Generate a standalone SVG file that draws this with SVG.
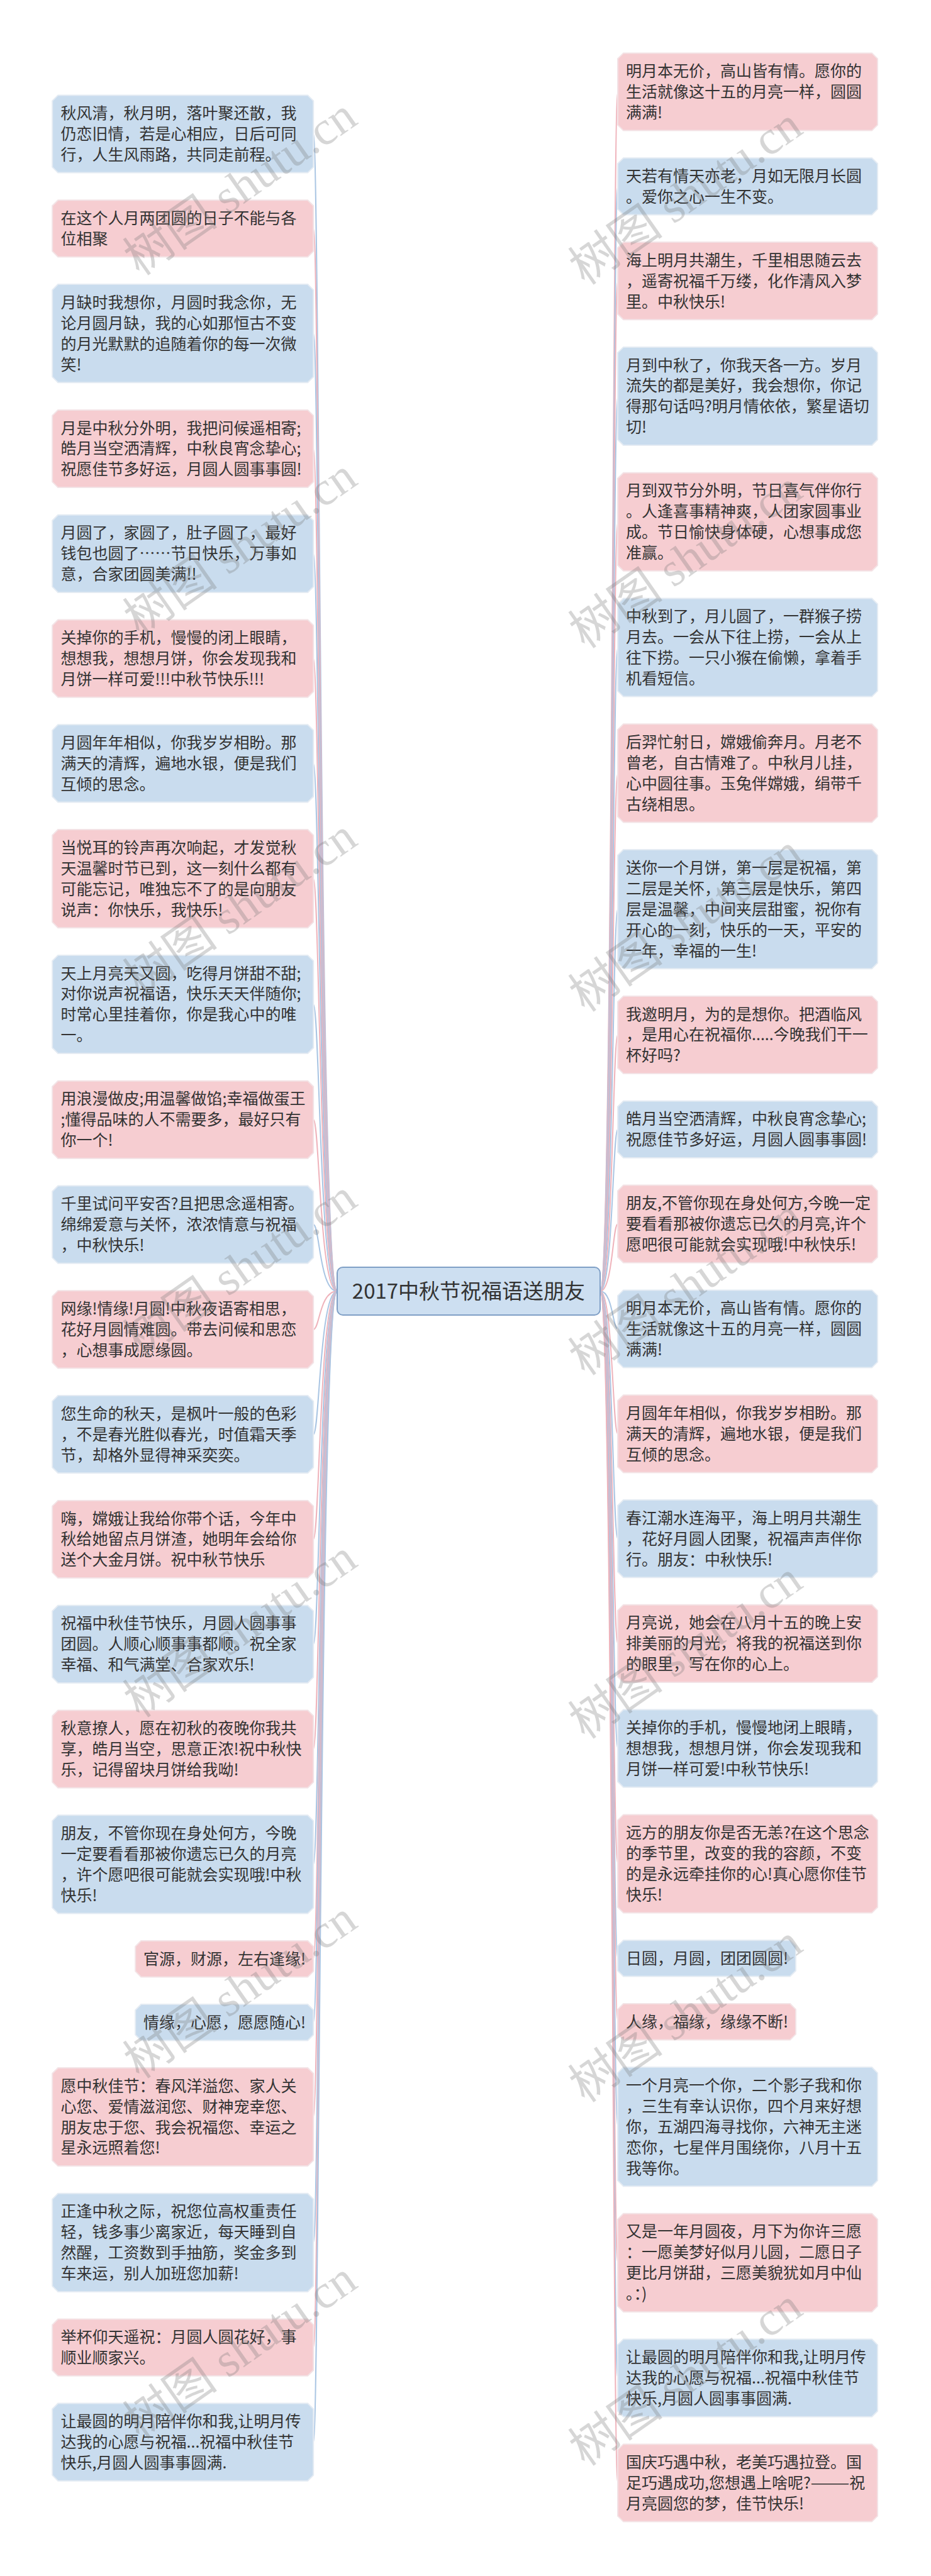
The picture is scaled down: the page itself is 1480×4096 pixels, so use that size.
<svg xmlns="http://www.w3.org/2000/svg" width="1480" height="4096" viewBox="0 0 1480 4096">
<style>
.b{fill:#c9dcee;stroke:#e4ebf3;stroke-width:2}
.p{fill:#f6cdd1;stroke:#f3e3e6;stroke-width:2}
.t{font-family:"Noto Sans CJK SC","Noto Sans",sans-serif;font-size:25px;fill:#333}
.cb{fill:none;stroke:#a9c5e3;stroke-width:2}
.cp{fill:none;stroke:#efb3bb;stroke-width:2}
.wm{font-family:"Liberation Serif","Noto Sans CJK SC",serif;font-size:76px;fill:#7a7a7a;opacity:.3}
</style>
<rect width="1480" height="4096" fill="#fff"/>
<g id="connectors">
<path class="cb" d="M536,2053C508,2053 508,213 498.2,213"/>
<path class="cp" d="M536,2053C508,2053 508,363.3 498.2,363.3"/>
<path class="cb" d="M536,2053C508,2053 508,530.2 498.2,530.2"/>
<path class="cp" d="M536,2053C508,2053 508,713.5 498.2,713.5"/>
<path class="cb" d="M536,2053C508,2053 508,880.3 498.2,880.3"/>
<path class="cp" d="M536,2053C508,2053 508,1047.1 498.2,1047.1"/>
<path class="cb" d="M536,2053C508,2053 508,1213.9 498.2,1213.9"/>
<path class="cp" d="M536,2053C508,2053 508,1397.2 498.2,1397.2"/>
<path class="cb" d="M536,2053C508,2053 508,1597 498.2,1597"/>
<path class="cp" d="M536,2053C508,2053 508,1780.3 498.2,1780.3"/>
<path class="cb" d="M536,2053C508,2053 508,1947.1 498.2,1947.1"/>
<path class="cp" d="M536,2053C508,2053 508,2113.9 498.2,2113.9"/>
<path class="cb" d="M536,2053C508,2053 508,2280.7 498.2,2280.7"/>
<path class="cp" d="M536,2053C508,2053 508,2447.5 498.2,2447.5"/>
<path class="cb" d="M536,2053C508,2053 508,2614.3 498.2,2614.3"/>
<path class="cp" d="M536,2053C508,2053 508,2781.1 498.2,2781.1"/>
<path class="cb" d="M536,2053C508,2053 508,2964.4 498.2,2964.4"/>
<path class="cp" d="M536,2053C508,2053 508,3114.7 498.2,3114.7"/>
<path class="cb" d="M536,2053C508,2053 508,3215.7 498.2,3215.7"/>
<path class="cp" d="M536,2053C508,2053 508,3366.1 498.2,3366.1"/>
<path class="cb" d="M536,2053C508,2053 508,3565.9 498.2,3565.9"/>
<path class="cp" d="M536,2053C508,2053 508,3732.7 498.2,3732.7"/>
<path class="cb" d="M536,2053C508,2053 508,3883.1 498.2,3883.1"/>
<path class="cp" d="M954,2053C974,2053 974,146 982,146"/>
<path class="cb" d="M954,2053C974,2053 974,296.3 982,296.3"/>
<path class="cp" d="M954,2053C974,2053 974,446.7 982,446.7"/>
<path class="cb" d="M954,2053C974,2053 974,630 982,630"/>
<path class="cp" d="M954,2053C974,2053 974,829.8 982,829.8"/>
<path class="cb" d="M954,2053C974,2053 974,1029.6 982,1029.6"/>
<path class="cp" d="M954,2053C974,2053 974,1229.4 982,1229.4"/>
<path class="cb" d="M954,2053C974,2053 974,1445.6 982,1445.6"/>
<path class="cp" d="M954,2053C974,2053 974,1645.4 982,1645.4"/>
<path class="cb" d="M954,2053C974,2053 974,1795.8 982,1795.8"/>
<path class="cp" d="M954,2053C974,2053 974,1946.2 982,1946.2"/>
<path class="cb" d="M954,2053C974,2053 974,2112.9 982,2112.9"/>
<path class="cp" d="M954,2053C974,2053 974,2279.7 982,2279.7"/>
<path class="cb" d="M954,2053C974,2053 974,2446.5 982,2446.5"/>
<path class="cp" d="M954,2053C974,2053 974,2613.3 982,2613.3"/>
<path class="cb" d="M954,2053C974,2053 974,2780.1 982,2780.1"/>
<path class="cp" d="M954,2053C974,2053 974,2963.4 982,2963.4"/>
<path class="cb" d="M954,2053C974,2053 974,3113.8 982,3113.8"/>
<path class="cp" d="M954,2053C974,2053 974,3214.7 982,3214.7"/>
<path class="cb" d="M954,2053C974,2053 974,3381.6 982,3381.6"/>
<path class="cp" d="M954,2053C974,2053 974,3597.8 982,3597.8"/>
<path class="cb" d="M954,2053C974,2053 974,3781.2 982,3781.2"/>
<path class="cp" d="M954,2053C974,2053 974,3948 982,3948"/>
</g>
<g id="center">
<rect x="536" y="2015" width="418" height="76" rx="9" fill="#cddff1" stroke="#7f9fc6" stroke-width="2"/>
<text x="745" y="2065" text-anchor="middle" class="t" style="font-size:33px">2017中秋节祝福语送朋友</text>
</g>
<g id="L1"><path class="b" d="M92.2,151.4H489.2L498.2,160.4V265.6L489.2,274.6H92.2L83.2,265.6V160.4Z"/><text class="t" x="96.5" y="189"><tspan x="96.5">秋风清，秋月明，落叶聚还散，我</tspan><tspan x="96.5" dy="32.95">仍恋旧情，若是心相应，日后可同</tspan><tspan x="96.5" dy="32.95">行，人生风雨路，共同走前程。</tspan></text></g>
<g id="L2"><path class="p" d="M92.2,318.2H489.2L498.2,327.2V399.4L489.2,408.4H92.2L83.2,399.4V327.2Z"/><text class="t" x="96.5" y="355.8"><tspan x="96.5">在这个人月两团圆的日子不能与各</tspan><tspan x="96.5" dy="32.95">位相聚</tspan></text></g>
<g id="L3"><path class="b" d="M92.2,452.1H489.2L498.2,461.1V599.2L489.2,608.2H92.2L83.2,599.2V461.1Z"/><text class="t" x="96.5" y="489.7"><tspan x="96.5">月缺时我想你，月圆时我念你，无</tspan><tspan x="96.5" dy="32.95">论月圆月缺，我的心如那恒古不变</tspan><tspan x="96.5" dy="32.95">的月光默默的追随着你的每一次微</tspan><tspan x="96.5" dy="32.95">笑!</tspan></text></g>
<g id="L4"><path class="p" d="M92.2,651.9H489.2L498.2,660.9V766.1L489.2,775.1H92.2L83.2,766.1V660.9Z"/><text class="t" x="96.5" y="689.5"><tspan x="96.5">月是中秋分外明，我把问候遥相寄;</tspan><tspan x="96.5" dy="32.95">皓月当空洒清辉，中秋良宵念挚心;</tspan><tspan x="96.5" dy="32.95">祝愿佳节多好运，月圆人圆事事圆!</tspan></text></g>
<g id="L5"><path class="b" d="M92.2,818.7H489.2L498.2,827.7V932.9L489.2,941.9H92.2L83.2,932.9V827.7Z"/><text class="t" x="96.5" y="856.3"><tspan x="96.5">月圆了，家圆了，肚子圆了，最好</tspan><tspan x="96.5" dy="32.95">钱包也圆了……节日快乐，万事如</tspan><tspan x="96.5" dy="32.95">意，合家团圆美满!!</tspan></text></g>
<g id="L6"><path class="p" d="M92.2,985.5H489.2L498.2,994.5V1099.7L489.2,1108.7H92.2L83.2,1099.7V994.5Z"/><text class="t" x="96.5" y="1023.1"><tspan x="96.5">关掉你的手机，慢慢的闭上眼睛，</tspan><tspan x="96.5" dy="32.95">想想我，想想月饼，你会发现我和</tspan><tspan x="96.5" dy="32.95">月饼一样可爱!!!中秋节快乐!!!</tspan></text></g>
<g id="L7"><path class="b" d="M92.2,1152.3H489.2L498.2,1161.3V1266.5L489.2,1275.5H92.2L83.2,1266.5V1161.3Z"/><text class="t" x="96.5" y="1189.9"><tspan x="96.5">月圆年年相似，你我岁岁相盼。那</tspan><tspan x="96.5" dy="32.95">满天的清辉，遍地水银，便是我们</tspan><tspan x="96.5" dy="32.95">互倾的思念。</tspan></text></g>
<g id="L8"><path class="p" d="M92.2,1319.1H489.2L498.2,1328.1V1466.2L489.2,1475.2H92.2L83.2,1466.2V1328.1Z"/><text class="t" x="96.5" y="1356.7"><tspan x="96.5">当悦耳的铃声再次响起，才发觉秋</tspan><tspan x="96.5" dy="32.95">天温馨时节已到，这一刻什么都有</tspan><tspan x="96.5" dy="32.95">可能忘记，唯独忘不了的是向朋友</tspan><tspan x="96.5" dy="32.95">说声：你快乐，我快乐!</tspan></text></g>
<g id="L9"><path class="b" d="M92.2,1518.9H489.2L498.2,1527.9V1666L489.2,1675H92.2L83.2,1666V1527.9Z"/><text class="t" x="96.5" y="1556.5"><tspan x="96.5">天上月亮天又圆，吃得月饼甜不甜;</tspan><tspan x="96.5" dy="32.95">对你说声祝福语，快乐天天伴随你;</tspan><tspan x="96.5" dy="32.95">时常心里挂着你，你是我心中的唯</tspan><tspan x="96.5" dy="32.95">一。</tspan></text></g>
<g id="L10"><path class="p" d="M92.2,1718.7H489.2L498.2,1727.7V1832.9L489.2,1841.9H92.2L83.2,1832.9V1727.7Z"/><text class="t" x="96.5" y="1756.3"><tspan x="96.5">用浪漫做皮;用温馨做馅;幸福做蛋王</tspan><tspan x="96.5" dy="32.95">;懂得品味的人不需要多，最好只有</tspan><tspan x="96.5" dy="32.95">你一个!</tspan></text></g>
<g id="L11"><path class="b" d="M92.2,1885.5H489.2L498.2,1894.5V1999.7L489.2,2008.7H92.2L83.2,1999.7V1894.5Z"/><text class="t" x="96.5" y="1923.1"><tspan x="96.5">千里试问平安否?且把思念遥相寄。</tspan><tspan x="96.5" dy="32.95">绵绵爱意与关怀，浓浓情意与祝福</tspan><tspan x="96.5" dy="32.95">，中秋快乐!</tspan></text></g>
<g id="L12"><path class="p" d="M92.2,2052.3H489.2L498.2,2061.3V2166.5L489.2,2175.5H92.2L83.2,2166.5V2061.3Z"/><text class="t" x="96.5" y="2089.9"><tspan x="96.5">网缘!情缘!月圆!中秋夜语寄相思，</tspan><tspan x="96.5" dy="32.95">花好月圆情难圆。带去问候和思恋</tspan><tspan x="96.5" dy="32.95">，心想事成愿缘圆。</tspan></text></g>
<g id="L13"><path class="b" d="M92.2,2219.1H489.2L498.2,2228.1V2333.3L489.2,2342.3H92.2L83.2,2333.3V2228.1Z"/><text class="t" x="96.5" y="2256.7"><tspan x="96.5">您生命的秋天，是枫叶一般的色彩</tspan><tspan x="96.5" dy="32.95">，不是春光胜似春光，时值霜天季</tspan><tspan x="96.5" dy="32.95">节，却格外显得神采奕奕。</tspan></text></g>
<g id="L14"><path class="p" d="M92.2,2385.9H489.2L498.2,2394.9V2500.1L489.2,2509.1H92.2L83.2,2500.1V2394.9Z"/><text class="t" x="96.5" y="2423.5"><tspan x="96.5">嗨，嫦娥让我给你带个话，今年中</tspan><tspan x="96.5" dy="32.95">秋给她留点月饼渣，她明年会给你</tspan><tspan x="96.5" dy="32.95">送个大金月饼。祝中秋节快乐</tspan></text></g>
<g id="L15"><path class="b" d="M92.2,2552.7H489.2L498.2,2561.7V2666.9L489.2,2675.9H92.2L83.2,2666.9V2561.7Z"/><text class="t" x="96.5" y="2590.3"><tspan x="96.5">祝福中秋佳节快乐，月圆人圆事事</tspan><tspan x="96.5" dy="32.95">团圆。人顺心顺事事都顺。祝全家</tspan><tspan x="96.5" dy="32.95">幸福、和气满堂、合家欢乐!</tspan></text></g>
<g id="L16"><path class="p" d="M92.2,2719.5H489.2L498.2,2728.5V2833.7L489.2,2842.7H92.2L83.2,2833.7V2728.5Z"/><text class="t" x="96.5" y="2757.1"><tspan x="96.5">秋意撩人，愿在初秋的夜晚你我共</tspan><tspan x="96.5" dy="32.95">享，皓月当空，思意正浓!祝中秋快</tspan><tspan x="96.5" dy="32.95">乐，记得留块月饼给我呦!</tspan></text></g>
<g id="L17"><path class="b" d="M92.2,2886.3H489.2L498.2,2895.3V3033.4L489.2,3042.4H92.2L83.2,3033.4V2895.3Z"/><text class="t" x="96.5" y="2923.9"><tspan x="96.5">朋友，不管你现在身处何方，今晚</tspan><tspan x="96.5" dy="32.95">一定要看看那被你遗忘已久的月亮</tspan><tspan x="96.5" dy="32.95">，许个愿吧很可能就会实现哦!中秋</tspan><tspan x="96.5" dy="32.95">快乐!</tspan></text></g>
<g id="L18"><path class="p" d="M224.2,3086.1H489.2L498.2,3095.1V3134.4L489.2,3143.4H224.2L215.2,3134.4V3095.1Z"/><text class="t" x="228" y="3123.7">官源，财源，左右逢缘!</text></g>
<g id="L19"><path class="b" d="M224.2,3187.1H489.2L498.2,3196.1V3235.4L489.2,3244.4H224.2L215.2,3235.4V3196.1Z"/><text class="t" x="228" y="3224.7">情缘，心愿，愿愿随心!</text></g>
<g id="L20"><path class="p" d="M92.2,3288H489.2L498.2,3297V3435.1L489.2,3444.1H92.2L83.2,3435.1V3297Z"/><text class="t" x="96.5" y="3325.6"><tspan x="96.5">愿中秋佳节：春风洋溢您、家人关</tspan><tspan x="96.5" dy="32.95">心您、爱情滋润您、财神宠幸您、</tspan><tspan x="96.5" dy="32.95">朋友忠于您、我会祝福您、幸运之</tspan><tspan x="96.5" dy="32.95">星永远照着您!</tspan></text></g>
<g id="L21"><path class="b" d="M92.2,3487.8H489.2L498.2,3496.8V3634.9L489.2,3643.9H92.2L83.2,3634.9V3496.8Z"/><text class="t" x="96.5" y="3525.4"><tspan x="96.5">正逢中秋之际，祝您位高权重责任</tspan><tspan x="96.5" dy="32.95">轻，钱多事少离家近，每天睡到自</tspan><tspan x="96.5" dy="32.95">然醒，工资数到手抽筋，奖金多到</tspan><tspan x="96.5" dy="32.95">车来运，别人加班您加薪!</tspan></text></g>
<g id="L22"><path class="p" d="M92.2,3687.6H489.2L498.2,3696.6V3768.8L489.2,3777.8H92.2L83.2,3768.8V3696.6Z"/><text class="t" x="96.5" y="3725.2"><tspan x="96.5">举杯仰天遥祝：月圆人圆花好，事</tspan><tspan x="96.5" dy="32.95">顺业顺家兴。</tspan></text></g>
<g id="L23"><path class="b" d="M92.2,3821.5H489.2L498.2,3830.5V3935.7L489.2,3944.7H92.2L83.2,3935.7V3830.5Z"/><text class="t" x="96.5" y="3859.1"><tspan x="96.5">让最圆的明月陪伴你和我,让明月传</tspan><tspan x="96.5" dy="32.95">达我的心愿与祝福...祝福中秋佳节</tspan><tspan x="96.5" dy="32.95">快乐,月圆人圆事事圆满.</tspan></text></g>
<g id="R1"><path class="p" d="M991,84.4H1386L1395,93.4V198.6L1386,207.6H991L982,198.6V93.4Z"/><text class="t" x="995" y="122"><tspan x="995">明月本无价，高山皆有情。愿你的</tspan><tspan x="995" dy="32.95">生活就像这十五的月亮一样，圆圆</tspan><tspan x="995" dy="32.95">满满!</tspan></text></g>
<g id="R2"><path class="b" d="M991,251.2H1386L1395,260.2V332.4L1386,341.4H991L982,332.4V260.2Z"/><text class="t" x="995" y="288.8"><tspan x="995">天若有情天亦老，月如无限月长圆</tspan><tspan x="995" dy="32.95">。爱你之心一生不变。</tspan></text></g>
<g id="R3"><path class="p" d="M991,385.1H1386L1395,394.1V499.3L1386,508.3H991L982,499.3V394.1Z"/><text class="t" x="995" y="422.7"><tspan x="995">海上明月共潮生，千里相思随云去</tspan><tspan x="995" dy="32.95">，遥寄祝福千万缕，化作清风入梦</tspan><tspan x="995" dy="32.95">里。中秋快乐!</tspan></text></g>
<g id="R4"><path class="b" d="M991,551.9H1386L1395,560.9V699L1386,708H991L982,699V560.9Z"/><text class="t" x="995" y="589.5"><tspan x="995">月到中秋了，你我天各一方。岁月</tspan><tspan x="995" dy="32.95">流失的都是美好，我会想你，你记</tspan><tspan x="995" dy="32.95">得那句话吗?明月情依依，繁星语切</tspan><tspan x="995" dy="32.95">切!</tspan></text></g>
<g id="R5"><path class="p" d="M991,751.7H1386L1395,760.7V898.8L1386,907.8H991L982,898.8V760.7Z"/><text class="t" x="995" y="789.3"><tspan x="995">月到双节分外明，节日喜气伴你行</tspan><tspan x="995" dy="32.95">。人逢喜事精神爽，人团家圆事业</tspan><tspan x="995" dy="32.95">成。节日愉快身体硬，心想事成您</tspan><tspan x="995" dy="32.95">准赢。</tspan></text></g>
<g id="R6"><path class="b" d="M991,951.5H1386L1395,960.5V1098.6L1386,1107.6H991L982,1098.6V960.5Z"/><text class="t" x="995" y="989.1"><tspan x="995">中秋到了，月儿圆了，一群猴子捞</tspan><tspan x="995" dy="32.95">月去。一会从下往上捞，一会从上</tspan><tspan x="995" dy="32.95">往下捞。一只小猴在偷懒，拿着手</tspan><tspan x="995" dy="32.95">机看短信。</tspan></text></g>
<g id="R7"><path class="p" d="M991,1151.3H1386L1395,1160.3V1298.4L1386,1307.4H991L982,1298.4V1160.3Z"/><text class="t" x="995" y="1188.9"><tspan x="995">后羿忙射日，嫦娥偷奔月。月老不</tspan><tspan x="995" dy="32.95">曾老，自古情难了。中秋月儿挂，</tspan><tspan x="995" dy="32.95">心中圆往事。玉兔伴嫦娥，绢带千</tspan><tspan x="995" dy="32.95">古绕相思。</tspan></text></g>
<g id="R8"><path class="b" d="M991,1351.1H1386L1395,1360.1V1531.2L1386,1540.2H991L982,1531.2V1360.1Z"/><text class="t" x="995" y="1388.7"><tspan x="995">送你一个月饼，第一层是祝福，第</tspan><tspan x="995" dy="32.95">二层是关怀，第三层是快乐，第四</tspan><tspan x="995" dy="32.95">层是温馨，中间夹层甜蜜，祝你有</tspan><tspan x="995" dy="32.95">开心的一刻，快乐的一天，平安的</tspan><tspan x="995" dy="32.95">一年，幸福的一生!</tspan></text></g>
<g id="R9"><path class="p" d="M991,1583.9H1386L1395,1592.9V1698.1L1386,1707.1H991L982,1698.1V1592.9Z"/><text class="t" x="995" y="1621.5"><tspan x="995">我邀明月，为的是想你。把酒临风</tspan><tspan x="995" dy="32.95">，是用心在祝福你.....今晚我们干一</tspan><tspan x="995" dy="32.95">杯好吗?</tspan></text></g>
<g id="R10"><path class="b" d="M991,1750.7H1386L1395,1759.7V1831.9L1386,1840.9H991L982,1831.9V1759.7Z"/><text class="t" x="995" y="1788.3"><tspan x="995">皓月当空洒清辉，中秋良宵念挚心;</tspan><tspan x="995" dy="32.95">祝愿佳节多好运，月圆人圆事事圆!</tspan></text></g>
<g id="R11"><path class="p" d="M991,1884.6H1386L1395,1893.6V1998.8L1386,2007.8H991L982,1998.8V1893.6Z"/><text class="t" x="995" y="1922.2"><tspan x="995">朋友,不管你现在身处何方,今晚一定</tspan><tspan x="995" dy="32.95">要看看那被你遗忘已久的月亮,许个</tspan><tspan x="995" dy="32.95">愿吧很可能就会实现哦!中秋快乐!</tspan></text></g>
<g id="R12"><path class="b" d="M991,2051.4H1386L1395,2060.4V2165.6L1386,2174.6H991L982,2165.6V2060.4Z"/><text class="t" x="995" y="2089"><tspan x="995">明月本无价，高山皆有情。愿你的</tspan><tspan x="995" dy="32.95">生活就像这十五的月亮一样，圆圆</tspan><tspan x="995" dy="32.95">满满!</tspan></text></g>
<g id="R13"><path class="p" d="M991,2218.2H1386L1395,2227.2V2332.4L1386,2341.4H991L982,2332.4V2227.2Z"/><text class="t" x="995" y="2255.8"><tspan x="995">月圆年年相似，你我岁岁相盼。那</tspan><tspan x="995" dy="32.95">满天的清辉，遍地水银，便是我们</tspan><tspan x="995" dy="32.95">互倾的思念。</tspan></text></g>
<g id="R14"><path class="b" d="M991,2385H1386L1395,2394V2499.2L1386,2508.2H991L982,2499.2V2394Z"/><text class="t" x="995" y="2422.6"><tspan x="995">春江潮水连海平，海上明月共潮生</tspan><tspan x="995" dy="32.95">，花好月圆人团聚，祝福声声伴你</tspan><tspan x="995" dy="32.95">行。朋友：中秋快乐!</tspan></text></g>
<g id="R15"><path class="p" d="M991,2551.8H1386L1395,2560.8V2666L1386,2675H991L982,2666V2560.8Z"/><text class="t" x="995" y="2589.4"><tspan x="995">月亮说，她会在八月十五的晚上安</tspan><tspan x="995" dy="32.95">排美丽的月光，将我的祝福送到你</tspan><tspan x="995" dy="32.95">的眼里，写在你的心上。</tspan></text></g>
<g id="R16"><path class="b" d="M991,2718.6H1386L1395,2727.6V2832.8L1386,2841.8H991L982,2832.8V2727.6Z"/><text class="t" x="995" y="2756.2"><tspan x="995">关掉你的手机，慢慢地闭上眼睛，</tspan><tspan x="995" dy="32.95">想想我，想想月饼，你会发现我和</tspan><tspan x="995" dy="32.95">月饼一样可爱!中秋节快乐!</tspan></text></g>
<g id="R17"><path class="p" d="M991,2885.4H1386L1395,2894.4V3032.5L1386,3041.5H991L982,3032.5V2894.4Z"/><text class="t" x="995" y="2923"><tspan x="995">远方的朋友你是否无恙?在这个思念</tspan><tspan x="995" dy="32.95">的季节里，改变的我的容颜，不变</tspan><tspan x="995" dy="32.95">的是永远牵挂你的心!真心愿你佳节</tspan><tspan x="995" dy="32.95">快乐!</tspan></text></g>
<g id="R18"><path class="b" d="M991,3085.2H1256L1265,3094.2V3133.5L1256,3142.5H991L982,3133.5V3094.2Z"/><text class="t" x="995" y="3122.8">日圆，月圆，团团圆圆!</text></g>
<g id="R19"><path class="p" d="M991,3186.1H1256L1265,3195.1V3234.4L1256,3243.4H991L982,3234.4V3195.1Z"/><text class="t" x="995" y="3223.7">人缘，福缘，缘缘不断!</text></g>
<g id="R20"><path class="b" d="M991,3287.1H1386L1395,3296.1V3467.2L1386,3476.2H991L982,3467.2V3296.1Z"/><text class="t" x="995" y="3324.7"><tspan x="995">一个月亮一个你，二个影子我和你</tspan><tspan x="995" dy="32.95">，三生有幸认识你，四个月来好想</tspan><tspan x="995" dy="32.95">你，五湖四海寻找你，六神无主迷</tspan><tspan x="995" dy="32.95">恋你，七星伴月围绕你，八月十五</tspan><tspan x="995" dy="32.95">我等你。</tspan></text></g>
<g id="R21"><path class="p" d="M991,3519.8H1386L1395,3528.8V3666.9L1386,3675.9H991L982,3666.9V3528.8Z"/><text class="t" x="995" y="3557.4"><tspan x="995">又是一年月圆夜，月下为你许三愿</tspan><tspan x="995" dy="32.95">：一愿美梦好似月儿圆，二愿日子</tspan><tspan x="995" dy="32.95">更比月饼甜，三愿美貌犹如月中仙</tspan><tspan x="995" dy="32.95">。：)</tspan></text></g>
<g id="R22"><path class="b" d="M991,3719.6H1386L1395,3728.6V3833.8L1386,3842.8H991L982,3833.8V3728.6Z"/><text class="t" x="995" y="3757.2"><tspan x="995">让最圆的明月陪伴你和我,让明月传</tspan><tspan x="995" dy="32.95">达我的心愿与祝福...祝福中秋佳节</tspan><tspan x="995" dy="32.95">快乐,月圆人圆事事圆满.</tspan></text></g>
<g id="R23"><path class="p" d="M991,3886.4H1386L1395,3895.4V4000.6L1386,4009.6H991L982,4000.6V3895.4Z"/><text class="t" x="995" y="3924"><tspan x="995">国庆巧遇中秋，老美巧遇拉登。国</tspan><tspan x="995" dy="32.95">足巧遇成功,您想遇上啥呢?———祝</tspan><tspan x="995" dy="32.95">月亮圆您的梦，佳节快乐!</tspan></text></g>
<g id="watermarks">
<text class="wm" x="222" y="440" transform="rotate(-35 222 440)">树图 shutu.cn</text>
<text class="wm" x="222" y="1013" transform="rotate(-35 222 1013)">树图 shutu.cn</text>
<text class="wm" x="222" y="1586" transform="rotate(-35 222 1586)">树图 shutu.cn</text>
<text class="wm" x="222" y="2160" transform="rotate(-35 222 2160)">树图 shutu.cn</text>
<text class="wm" x="222" y="2733" transform="rotate(-35 222 2733)">树图 shutu.cn</text>
<text class="wm" x="222" y="3307" transform="rotate(-35 222 3307)">树图 shutu.cn</text>
<text class="wm" x="222" y="3880" transform="rotate(-35 222 3880)">树图 shutu.cn</text>
<text class="wm" x="930" y="455" transform="rotate(-35 930 455)">树图 shutu.cn</text>
<text class="wm" x="930" y="1033" transform="rotate(-35 930 1033)">树图 shutu.cn</text>
<text class="wm" x="930" y="1611" transform="rotate(-35 930 1611)">树图 shutu.cn</text>
<text class="wm" x="930" y="2189" transform="rotate(-35 930 2189)">树图 shutu.cn</text>
<text class="wm" x="930" y="2767" transform="rotate(-35 930 2767)">树图 shutu.cn</text>
<text class="wm" x="930" y="3345" transform="rotate(-35 930 3345)">树图 shutu.cn</text>
<text class="wm" x="930" y="3923" transform="rotate(-35 930 3923)">树图 shutu.cn</text>
</g>
</svg>
